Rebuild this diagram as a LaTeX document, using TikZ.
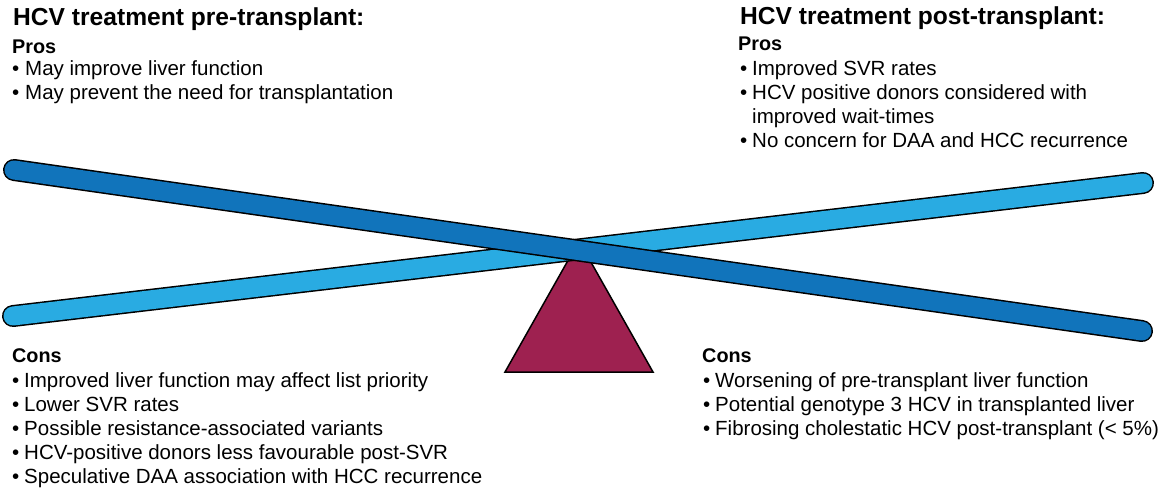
\documentclass[tikz,border=0pt]{standalone}
\usepackage{fontspec}
\setmainfont{Liberation Sans}
\definecolor{darkbar}{HTML}{1174BB}
\definecolor{lightbar}{HTML}{29ABE2}
\definecolor{fulcrum}{HTML}{9E2150}
\begin{document}
\begin{tikzpicture}[x=1pt,y=-1pt,
  title/.style={anchor=base west,inner sep=0,font=\fontsize{24.6}{28}\selectfont\bfseries},
  head/.style={anchor=base west,inner sep=0,font=\fontsize{19.8}{24}\selectfont\bfseries},
  item/.style={anchor=base west,inner sep=0,font=\fontsize{20.5}{24}\selectfont},
  baredge/.style={line width=22,line cap=round,draw=black},
  barfill/.style={line width=19,line cap=round},
]
\useasboundingbox (0,0) rectangle (1160,490);
\fill[white] (0,0) rectangle (1160,490);

% fulcrum
\coordinate (tA) at (505,372);
\coordinate (tB) at (579,241);
\coordinate (tC) at (653,372);
\filldraw[fill=fulcrum,draw=black,line width=1.5] (tA) -- (tB) -- (tC) -- cycle;

% light bar
\coordinate (l1) at (13,316);
\coordinate (l2) at (1143,183);
\draw[baredge] (l1) -- (l2);
\draw[barfill,lightbar] (l1) -- (l2);

% dark bar
\coordinate (d1) at (14,170);
\coordinate (d2) at (1142,331);
\draw[baredge] (d1) -- (d2);
\draw[barfill,darkbar] (d1) -- (d2);

% left top
\node[title] (t1) at (13,25) {HCV treatment pre-transplant:};
\node[head] (p1) at (12,53) {Pros};
\node[item] (p1b1) at (12,75) {•};
\node[item] (p1t1) at (25,75) {May improve liver function};
\node[item] (p1b2) at (12,99) {•};
\node[item] (p1t2) at (25,99) {May prevent the need for transplantation};

% right top
\node[title] (t2) at (740,24) {HCV treatment post-transplant:};
\node[head] (p2) at (738,50) {Pros};
\node[item] (p2b1) at (740,75) {•};
\node[item] (p2t1) at (752,75) {Improved SVR rates};
\node[item] (p2b2) at (740,99) {•};
\node[item] (p2t2) at (752,99) {HCV positive donors considered with};
\node[item] (p2t3) at (752,123) {improved wait-times};
\node[item] (p2b4) at (740,147) {•};
\node[item] (p2t4) at (752,147) {No concern for DAA and HCC recurrence};

% left bottom
\node[head] (c1) at (12,362) {Cons};
\node[item] (c1b1) at (12,387) {•};
\node[item] (c1t1) at (24,387) {Improved liver function may affect list priority};
\node[item] (c1b2) at (12,411) {•};
\node[item] (c1t2) at (24,411) {Lower SVR rates};
\node[item] (c1b3) at (12,435) {•};
\node[item] (c1t3) at (24,435) {Possible resistance-associated variants};
\node[item] (c1b4) at (12,459) {•};
\node[item] (c1t4) at (24,459) {HCV-positive donors less favourable post-SVR};
\node[item] (c1b5) at (12,483) {•};
\node[item] (c1t5) at (24,483) {Speculative DAA association with HCC recurrence};

% right bottom
\node[head] (c2) at (702,362) {Cons};
\node[item] (c2b1) at (703,387) {•};
\node[item] (c2t1) at (715,387) {Worsening of pre-transplant liver function};
\node[item] (c2b2) at (703,411) {•};
\node[item] (c2t2) at (715,411) {Potential genotype 3 HCV in transplanted liver};
\node[item] (c2b3) at (703,435) {•};
\node[item] (c2t3) at (715,435) {Fibrosing cholestatic HCV post-transplant (< 5\%)};
\end{tikzpicture}
\end{document}
